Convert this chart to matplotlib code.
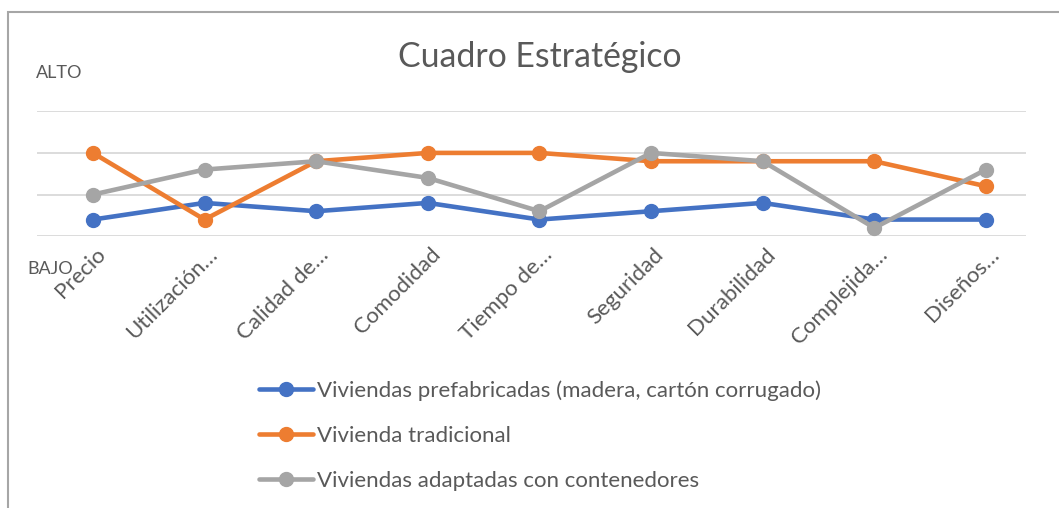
import matplotlib.pyplot as plt
from matplotlib.patches import Rectangle
from matplotlib.transforms import ScaledTranslation

plt.rcParams['font.family'] = ['Lato', 'DejaVu Sans']

categorias = ['Precio', 'Utilización…', 'Calidad de…', 'Comodidad', 'Tiempo de…',
              'Seguridad', 'Durabilidad', 'Complejida…', 'Diseños…']
prefabricadas = [0.4, 0.8, 0.6, 0.8, 0.4, 0.6, 0.8, 0.4, 0.4]
tradicional = [2.0, 0.4, 1.8, 2.0, 2.0, 1.8, 1.8, 1.8, 1.2]
contenedores = [1.0, 1.6, 1.8, 1.4, 0.6, 2.0, 1.8, 0.2, 1.6]
nombres = ['Viviendas prefabricadas (madera, cartón corrugado)',
           'Vivienda tradicional',
           'Viviendas adaptadas con contenedores']
colores = ['#4472C4', '#ED7D31', '#A5A5A5']
texto = '#595959'

fig = plt.figure(figsize=(10.59, 5.08), dpi=100)
ax = fig.add_axes([0.035, 0.535, 0.934, 0.246])

# marco del grafico
fig.patches.append(Rectangle((8 / 1059, -0.1), 1.2, 1 - 12 / 508 + 0.1,
                             transform=fig.transFigure, fill=False,
                             edgecolor='#A6A6A6', linewidth=1.5))

for v in [0, 1, 2, 3]:
    ax.axhline(v, color='#D9D9D9', linewidth=1.3, zorder=0)

x = range(len(categorias))
for serie, nombre, c in zip([prefabricadas, tradicional, contenedores], nombres, colores):
    ax.plot(x, serie, color=c, linewidth=3.3, marker='o', markersize=10,
            label=nombre, solid_capstyle='round')

ax.set_xlim(-0.5, 8.36)
ax.set_ylim(0, 3)
for s in ax.spines.values():
    s.set_visible(False)
ax.set_yticks([])
ax.set_xticks(list(x))
ax.set_xticklabels(categorias, rotation=45, ha='right', va='center',
                   rotation_mode='anchor', fontsize=16, color=texto)
ax.tick_params(axis='x', length=0, pad=11)
desplaza = ScaledTranslation(7 / 72, 0, fig.dpi_scale_trans)
for lbl in ax.get_xticklabels():
    lbl.set_transform(lbl.get_transform() + desplaza)

ax.text(-0.38, -0.78, 'BAJO', ha='center', va='center', fontsize=13, color=texto)
ax.text(-0.30, 3.92, 'ALTO', ha='center', va='center', fontsize=13, color=texto,
        clip_on=False)

fig.text(0.51, 0.888, 'Cuadro Estratégico', ha='center', va='center',
         fontsize=24.3, color=texto)

fig.legend(loc='center', bbox_to_anchor=(0.51, 0.142), ncol=1, frameon=False,
           fontsize=16, labelcolor=texto, handlelength=2.4, handletextpad=0.2,
           labelspacing=1.12)

plt.savefig('out.png', dpi=100)
